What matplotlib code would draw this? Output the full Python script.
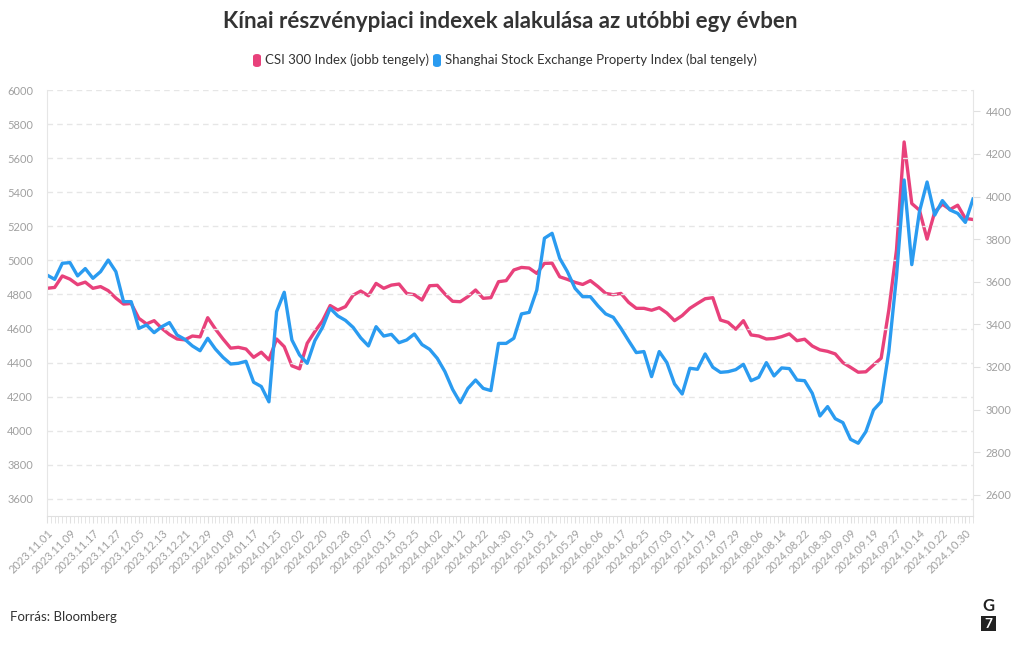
import numpy as np
import matplotlib
matplotlib.use("Agg")
import matplotlib.pyplot as plt
from matplotlib.patches import FancyBboxPatch, Rectangle

plt.rcParams['font.family'] = ['Lato', 'DejaVu Sans']

# every second trading day, 2023.11.01 -> 2024.11.01
csi300 = [3569, 3573, 3627, 3612, 3586, 3598, 3569, 3577, 3558, 3523,
          3495, 3498, 3428, 3402, 3417, 3381, 3352, 3331, 3327, 3345,
          3341, 3431, 3378, 3331, 3288, 3292, 3284, 3245, 3269, 3233,
          3331, 3295, 3205, 3191, 3311, 3366, 3416, 3488, 3467, 3483,
          3537, 3556, 3534, 3592, 3569, 3584, 3589, 3545, 3539, 3514,
          3581, 3583, 3542, 3508, 3506, 3530, 3561, 3522, 3525, 3600,
          3605, 3655, 3667, 3664, 3639, 3686, 3687, 3623, 3611, 3597,
          3587, 3605, 3577, 3545, 3539, 3545, 3503, 3475, 3475, 3466,
          3478, 3453, 3417, 3441, 3475, 3498, 3520, 3525, 3420, 3409,
          3377, 3417, 3350, 3345, 3331, 3333, 3342, 3355, 3323, 3330,
          3298, 3280, 3273, 3261, 3220, 3198, 3175, 3177, 3209, 3241,
          3467, 3748, 4256, 3967, 3936, 3800, 3928, 3964, 3939, 3959,
          3897, 3892]

sse_property = [4914, 4889, 4983, 4987, 4909, 4952, 4895, 4934, 5002, 4934,
                4758, 4758, 4601, 4621, 4576, 4611, 4635, 4562, 4537, 4498,
                4470, 4543, 4480, 4431, 4392, 4396, 4408, 4285, 4260, 4170,
                4699, 4813, 4533, 4445, 4396, 4529, 4607, 4719, 4674, 4648,
                4607, 4545, 4498, 4611, 4556, 4566, 4517, 4533, 4568, 4506,
                4478, 4425, 4347, 4243, 4165, 4249, 4298, 4249, 4236, 4513,
                4513, 4543, 4686, 4695, 4826, 5130, 5159, 5012, 4934, 4836,
                4787, 4787, 4733, 4686, 4666, 4601, 4529, 4459, 4465, 4318,
                4465, 4400, 4275, 4216, 4367, 4361, 4451, 4373, 4343, 4347,
                4359, 4390, 4294, 4314, 4400, 4322, 4369, 4365, 4298, 4294,
                4220, 4087, 4142, 4071, 4048, 3950, 3927, 3995, 4122, 4171,
                4465, 4905, 5472, 4975, 5286, 5460, 5266, 5351, 5296, 5276,
                5223, 5360]

date_labels = ['2023.11.01', '2023.11.09', '2023.11.17', '2023.11.27', '2023.12.05',
               '2023.12.13', '2023.12.21', '2023.12.29', '2024.01.09', '2024.01.17',
               '2024.01.25', '2024.02.02', '2024.02.20', '2024.02.28', '2024.03.07',
               '2024.03.15', '2024.03.25', '2024.04.02', '2024.04.12', '2024.04.22',
               '2024.04.30', '2024.05.13', '2024.05.21', '2024.05.29', '2024.06.06',
               '2024.06.17', '2024.06.25', '2024.07.03', '2024.07.11', '2024.07.19',
               '2024.07.29', '2024.08.06', '2024.08.14', '2024.08.22', '2024.08.30',
               '2024.09.09', '2024.09.19', '2024.09.27', '2024.10.14', '2024.10.22',
               '2024.10.30']

PINK = '#e8417b'
BLUE = '#2a9bf0'
GRID = '#e6e6e6'
LABEL = '#a0a0a0'

x = np.arange(len(csi300)) * 2   # trading-day index
n_days = x[-1]

fig = plt.figure(figsize=(10.2, 6.5), dpi=100)
ax = fig.add_axes([47 / 1020, 1 - 516 / 650, 926 / 1020, 426 / 650])
ax2 = ax.twinx()

# left axis: property index, right axis: CSI 300
ax.set_ylim(3500, 6000)
ax2.set_ylim(2500, 4500)
ax.set_xlim(0, n_days)
ax.set_yticks(range(3600, 6001, 200))
ax2.set_yticks(range(2600, 4401, 200))

ax.grid(axis='y', color=GRID, linestyle=(0, (4, 3)), linewidth=1)
ax.set_axisbelow(True)

ax2.plot(x, csi300, color=PINK, linewidth=2.4, solid_joinstyle='round')
ax.plot(x, sse_property, color=BLUE, linewidth=2.4, solid_joinstyle='round')
# blue series drawn above the pink one
ax.set_zorder(ax2.get_zorder() + 1)
ax.patch.set_visible(False)

for a in (ax, ax2):
    for s in a.spines.values():
        s.set_visible(False)
ax.spines['left'].set_visible(True)
ax.spines['left'].set_color(GRID)
ax2.spines['right'].set_visible(True)
ax2.spines['right'].set_color(GRID)
ax.spines['bottom'].set_visible(True)
ax.spines['bottom'].set_color('#e0e0e0')

tick_pos = np.arange(0, 6 * len(date_labels), 6)
ax.set_xticks(tick_pos)
ax.set_xticklabels(date_labels, rotation=45, ha='right', rotation_mode='anchor')
ax.set_xticks(np.arange(0, n_days + 1), minor=True)
ax.tick_params(axis='x', which='both', length=5, color='#e0e0e0',
               labelcolor=LABEL, labelsize=8, pad=3)
ax.tick_params(axis='y', length=0, labelcolor=LABEL, labelsize=8, pad=10)
ax2.tick_params(axis='y', length=5, color='#e0e0e0', labelcolor=LABEL,
                labelsize=8, pad=4)

fig.text(0.5, 1 - 22 / 650, 'Kínai részvénypiaci indexek alakulása az utóbbi egy évben',
         ha='center', va='center', fontsize=16, fontweight='bold', color='#333333')

# legend
items = [(PINK, 'CSI 300 Index (jobb tengely)', 253),
         (BLUE, 'Shanghai Stock Exchange Property Index (bal tengely)', 433)]
for col, txt, px in items:
    fig.patches.append(FancyBboxPatch((px / 1020, 1 - 67 / 650), 8 / 1020, 13 / 650,
                                      boxstyle='round,pad=0,rounding_size=0.004',
                                      transform=fig.transFigure, facecolor=col,
                                      edgecolor='none'))
    fig.text((px + 12) / 1020, 1 - 60 / 650, txt, ha='left', va='center',
             fontsize=9.5, color='#333333')

fig.text(10 / 1020, 1 - 617 / 650, 'Forrás: Bloomberg', ha='left', va='center',
         fontsize=9.5, color='#333333')

# G7 logo
fig.text(988 / 1020, 1 - 606 / 650, 'G', ha='center', va='center',
         fontsize=12, fontweight='bold', color='#222222')
fig.patches.append(Rectangle((981 / 1020, 1 - 631 / 650), 15 / 1020, 15 / 650,
                             transform=fig.transFigure, facecolor='#222222',
                             edgecolor='none'))
fig.text(988.5 / 1020, 1 - 623.5 / 650, '7', ha='center', va='center',
         fontsize=10, fontweight='bold', color='white')

fig.savefig('out.png', dpi=100)
